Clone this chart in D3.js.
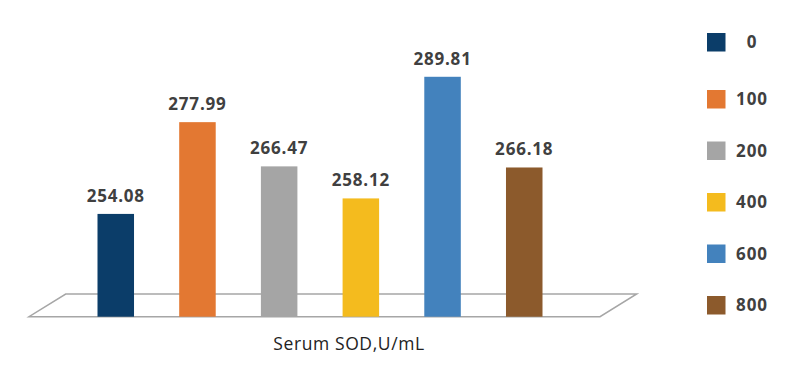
<!DOCTYPE html>
<html><head><meta charset="utf-8">
<script src="https://cdn.jsdelivr.net/npm/d3@7"></script>
<style>body{margin:0;background:#fff}svg{display:block}</style>
</head><body><svg id="c" width="800" height="369"></svg>
<script>
const categories = ["0","100","200","400","600","800"];
const values = [254.08, 277.99, 266.47, 258.12, 289.81, 266.18];
const labels = ["254.08","277.99","266.47","258.12","289.81","266.18"];
const colors = ["#0b3d69","#e37832","#a5a5a5","#f4bb1e","#4382bd","#8c5a2c"];
const axisTitle = "Serum SOD,U/mL";

const svg = d3.select("#c");
const baseY = 316.7, backY = 294;
const x = d3.scaleBand().domain(categories).range([97.5, 542.5]).paddingInner(0.553).paddingOuter(0);
const y = d3.scaleLinear().domain([227.3, 300]).range([baseY, baseY - 72.7*3.838]);

// floor plane
svg.append("polygon")
  .attr("points", [[29,baseY],[600,baseY],[636.7,backY],[65.7,backY]].map(p=>p.join(",")).join(" "))
  .attr("fill","#fff").attr("stroke","#a6a6a6").attr("stroke-width",1.5);

svg.selectAll("rect.bar").data(values).join("rect").attr("class","bar")
  .attr("x",(d,i)=>x(categories[i])).attr("width",x.bandwidth())
  .attr("y",d=>y(d)).attr("height",d=>baseY-y(d))
  .attr("fill",(d,i)=>colors[i]);

svg.selectAll("text.lab").data(values).join("text").attr("class","lab")
  .attr("x",(d,i)=>x(categories[i])+x.bandwidth()/2).attr("y",d=>y(d)-12)
  .attr("text-anchor","middle").attr("font-family","'Open Sans'").attr("font-weight",700)
  .attr("font-size",17).attr("letter-spacing",0.8).attr("fill","#404040").text((d,i)=>labels[i]);

svg.append("text").attr("x",349).attr("y",350).attr("text-anchor","middle")
  .attr("font-family","'Open Sans'").attr("font-size",17.5).attr("letter-spacing",0.6).attr("fill","#222").text(axisTitle);

const ly = i => i===0 ? 42 : 99 + (i-1)*51.5;
const lg = svg.selectAll("g.lg").data(categories).join("g").attr("class","lg")
  .attr("transform",(d,i)=>`translate(0,${ly(i)})`);
lg.append("rect").attr("x",707).attr("y",-9).attr("width",18.5).attr("height",18.5).attr("fill",(d,i)=>colors[i]);
lg.append("text").attr("x",752).attr("y",6).attr("text-anchor","middle")
  .attr("font-family","'Open Sans'").attr("font-weight",700).attr("font-size",17).attr("letter-spacing",1).attr("fill","#404040").text(d=>d);
</script></body></html>
